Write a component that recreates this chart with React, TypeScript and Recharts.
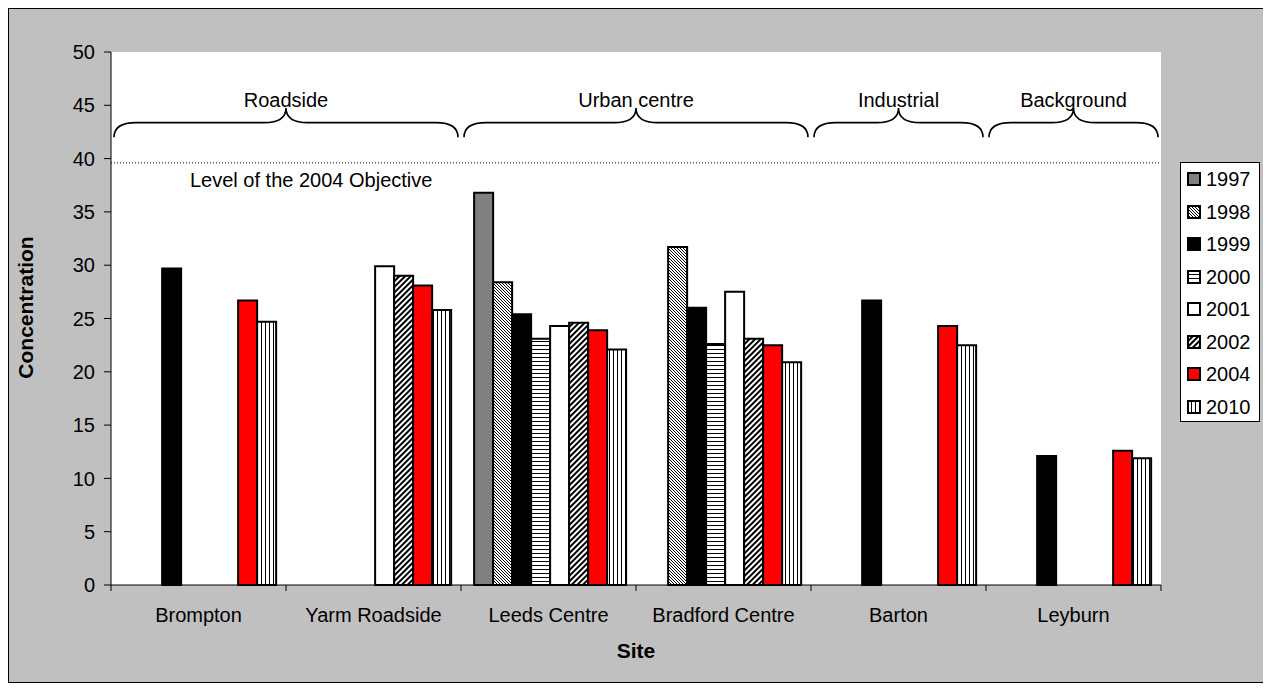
import React from 'react';
import { BarChart, Bar, XAxis, YAxis, CartesianGrid, ReferenceLine, ReferenceArea, Legend } from 'recharts';

const sites = ['Brompton', 'Yarm Roadside', 'Leeds Centre', 'Bradford Centre', 'Barton', 'Leyburn'];
const years = ['1997', '1998', '1999', '2000', '2001', '2002', '2004', '2010'];

// concentration per site, one list per year (null = no measurement)
const c1997 = [null, null, 36.8, null, null, null];
const c1998 = [null, null, 28.4, 31.7, null, null];
const c1999 = [29.7, null, 25.4, 26.0, 26.7, 12.1];
const c2000 = [null, null, 23.1, 22.6, null, null];
const c2001 = [null, 29.9, 24.3, 27.5, null, null];
const c2002 = [null, 29.0, 24.6, 23.1, null, null];
const c2004 = [26.7, 28.1, 23.9, 22.5, 24.3, 12.6];
const c2010 = [24.7, 25.8, 22.1, 20.9, 22.5, 11.9];

const yTicks = [0, 5, 10, 15, 20, 25, 30, 35, 40, 45, 50];

const objective = 39.6;
const objectiveText = 'Level of the 2004 Objective';

const groups = [
  { name: 'Roadside', from: 'Brompton', to: 'Yarm Roadside' },
  { name: 'Urban centre', from: 'Leeds Centre', to: 'Bradford Centre' },
  { name: 'Industrial', from: 'Barton', to: 'Barton' },
  { name: 'Background', from: 'Leyburn', to: 'Leyburn' },
];
const braceBottom = 42;
const braceTop = 44.75;

const valuesByYear: Record<string, (number | null)[]> = {
  '1997': c1997, '1998': c1998, '1999': c1999, '2000': c2000,
  '2001': c2001, '2002': c2002, '2004': c2004, '2010': c2010,
};

const fills: Record<string, string> = {
  '1997': '#808080',
  '1998': 'url(#p1998)',
  '1999': '#000000',
  '2000': 'url(#p2000)',
  '2001': '#ffffff',
  '2002': 'url(#p2002)',
  '2004': '#ff0000',
  '2010': 'url(#p2010)',
};

const data = sites.map((site, i) => {
  const row: any = { site };
  years.forEach((y) => { row[y] = valuesByYear[y][i]; });
  return row;
});

const FONT = '"Liberation Sans", Arial, Helvetica, sans-serif';

const Brace = (props: any) => {
  const { x, y, width, height, text } = props;
  const inset = 3;
  const x0 = x + inset;
  const x1 = x + width - inset;
  const mid = x + width / 2;
  const hy = y + height * 0.5;
  const by = y + height;
  const r = Math.min(22, width / 8);
  const d = `M ${x0} ${by} Q ${x0} ${hy} ${x0 + r} ${hy} L ${mid - r} ${hy} Q ${mid} ${hy} ${mid} ${y} Q ${mid} ${hy} ${mid + r} ${hy} L ${x1 - r} ${hy} Q ${x1} ${hy} ${x1} ${by}`;
  return (
    <g>
      <path d={d} fill="none" stroke="#000" strokeWidth={1.6} />
      <text x={mid} y={y - 1} textAnchor="middle" fontSize={20} fill="#000" fontFamily={FONT}>{text}</text>
    </g>
  );
};

const SiteTick = (props: any) => {
  const { x, y, payload, index, visibleTicksCount } = props;
  const half = payload && payload.offset ? payload.offset : 0;
  return (
    <g>
      <line x1={x - half} y1={y} x2={x - half} y2={y + 6} stroke="#000" />
      {index === visibleTicksCount - 1 && (
        <line x1={x + half} y1={y} x2={x + half} y2={y + 6} stroke="#000" />
      )}
      <text x={x} y={y + 37} textAnchor="middle" fontSize={20} fill="#000" fontFamily={FONT}>
        {payload.value}
      </text>
    </g>
  );
};

const LegendBox = () => (
  <div style={{ width: 80, height: 260, boxSizing: 'border-box', border: '1px solid #000', background: '#fff' }}>
    {years.map((y) => (
      <div key={y} style={{ height: 32.5, display: 'flex', alignItems: 'center', paddingLeft: 6 }}>
        <svg width={14} height={14} style={{ display: 'block' }}>
          <rect x={1} y={1} width={12} height={12} fill={fills[y]} stroke="#000" strokeWidth={2} />
        </svg>
        <span style={{ marginLeft: 5, fontSize: 20, color: '#000', lineHeight: '20px' }}>{y}</span>
      </div>
    ))}
  </div>
);

export default function App() {
  return (
    <div
      style={{
        width: 1260,
        height: 675,
        boxSizing: 'border-box',
        border: '1px solid #000',
        background: '#c0c0c0',
        fontFamily: FONT,
      }}
    >
      <BarChart
        width={1258}
        height={673}
        data={data}
        margin={{ top: 43, right: 106, left: 6, bottom: 0 }}
        barCategoryGap="7.5%"
        barGap={0}
      >
        <defs>
          <pattern id="p1998" width="3" height="3" patternUnits="userSpaceOnUse">
            <rect width="3" height="3" fill="#fff" />
            <rect x="0" y="0" width="1" height="1" fill="#000" />
            <rect x="1" y="1" width="1" height="1" fill="#000" />
            <rect x="2" y="2" width="1" height="1" fill="#000" />
          </pattern>
          <pattern id="p2000" width="4" height="4" patternUnits="userSpaceOnUse">
            <rect width="4" height="4" fill="#fff" />
            <rect x="0" y="0" width="4" height="1" fill="#000" />
          </pattern>
          <pattern id="p2002" width="4" height="4" patternUnits="userSpaceOnUse" patternTransform="rotate(45)">
            <rect width="4" height="4" fill="#fff" />
            <rect x="0" y="0" width="2" height="4" fill="#000" />
          </pattern>
          <pattern id="p2010" width="4" height="4" patternUnits="userSpaceOnUse">
            <rect width="4" height="4" fill="#fff" />
            <rect x="0" y="0" width="1" height="4" fill="#000" />
          </pattern>
        </defs>
        <CartesianGrid fill="#ffffff" horizontal={false} vertical={false} />
        <XAxis
          dataKey="site"
          height={97}
          axisLine={{ stroke: '#000' }}
          tickLine={false}
          tickSize={0}
          tickMargin={0}
          interval={0}
          tick={<SiteTick />}
          label={{
            content: (p: any) => (
              <text
                x={p.viewBox.x + p.viewBox.width / 2}
                y={p.viewBox.y + 73}
                textAnchor="middle"
                fontSize={21}
                fontWeight="bold"
                fill="#000"
                fontFamily={FONT}
              >
                Site
              </text>
            ),
          }}
        />
        <XAxis
          xAxisId="top"
          orientation="top"
          dataKey="site"
          height={0}
          tick={false}
          tickLine={false}
          axisLine={{ stroke: '#808080' }}
        />
        <YAxis
          width={96}
          domain={[0, 50]}
          ticks={yTicks}
          interval={0}
          tickSize={7}
          tickMargin={9}
          axisLine={{ stroke: '#000' }}
          tickLine={{ stroke: '#000' }}
          tick={{ fontSize: 20, fill: '#000', fontFamily: FONT }}
          label={{
            content: (p: any) => {
              const cx = p.viewBox.x + 10;
              const cy = p.viewBox.y + p.viewBox.height / 2 - 11;
              return (
                <text
                  x={cx}
                  y={cy}
                  transform={`rotate(-90 ${cx} ${cy})`}
                  textAnchor="middle"
                  dominantBaseline="central"
                  fontSize={21}
                  fontWeight="bold"
                  fill="#000"
                  fontFamily={FONT}
                >
                  Concentration
                </text>
              );
            },
          }}
        />
        <YAxis
          yAxisId="right"
          orientation="right"
          width={0}
          domain={[0, 50]}
          tick={false}
          tickLine={false}
          axisLine={{ stroke: '#808080' }}
        />
        {groups.map((g) => (
          <ReferenceArea
            key={g.name}
            x1={g.from}
            x2={g.to}
            y1={braceBottom}
            y2={braceTop}
            shape={(p: any) => <Brace {...p} text={g.name} />}
          />
        ))}
        <ReferenceLine
          y={objective}
          stroke="#000"
          strokeDasharray="1 2"
          label={{
            content: (p: any) => (
              <text x={p.viewBox.x + 79} y={p.viewBox.y + 24} fontSize={20} fill="#000" fontFamily={FONT}>
                {objectiveText}
              </text>
            ),
          }}
        />
        {years.map((y) => (
          <Bar
            key={y}
            dataKey={y}
            name={y}
            fill={fills[y]}
            stroke="#000"
            strokeWidth={2}
            isAnimationActive={false}
          />
        ))}
        <Legend
          layout="vertical"
          align="center"
          verticalAlign="middle"
          content={<LegendBox />}
          wrapperStyle={{ left: 1171, top: 153, width: 80, height: 260 }}
        />
      </BarChart>
    </div>
  );
}
